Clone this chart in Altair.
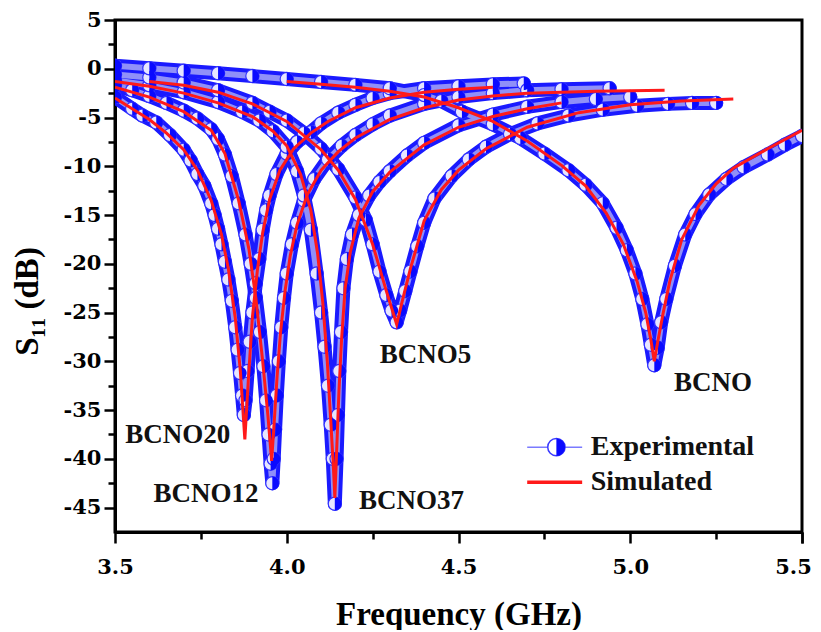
import altair as alt
import pandas as pd

bcno20_f = [3.50, 3.55, 3.58, 3.62, 3.66, 3.70, 3.72, 3.74, 3.76, 3.78, 3.79, 3.80, 3.81, 3.82,
            3.83, 3.84, 3.85, 3.857, 3.864, 3.87, 3.875, 3.88, 3.886, 3.892, 3.90, 3.91, 3.92,
            3.93, 3.94, 3.95, 3.97, 4.00, 4.03, 4.07, 4.10, 4.15, 4.20, 4.25, 4.30, 4.40, 4.50,
            4.60, 4.69]
bcno20_s = [-2.9, -4.1, -4.8, -5.5, -6.8, -8.3, -9.4, -10.8, -12.0, -13.8, -15.0, -16.4, -18.0,
            -19.8, -21.6, -23.8, -26.5, -28.8, -31.2, -33.5, -35.5, -34.0, -31.0, -28.0, -25.0,
            -22.0, -19.5, -16.5, -14.5, -13.0, -10.8, -8.7, -7.5, -6.5, -5.6, -4.5, -3.7, -3.0,
            -2.5, -2.0, -1.8, -1.6, -1.5]

bcno12_f = [3.50, 3.55, 3.60, 3.65, 3.70, 3.74, 3.78, 3.80, 3.82, 3.84, 3.86, 3.88, 3.895, 3.91,
            3.922, 3.932, 3.94, 3.947, 3.953, 3.958, 3.962, 3.966, 3.971, 3.977, 3.984, 3.992,
            4.00, 4.015, 4.03, 4.05, 4.08, 4.12, 4.16, 4.20, 4.25, 4.30, 4.40, 4.50, 4.60, 4.70,
            4.80, 4.94]
bcno12_s = [-1.7, -2.2, -2.8, -3.5, -4.3, -5.1, -6.2, -7.2, -8.8, -11.0, -13.8, -17.0, -20.0,
            -23.5, -27.0, -30.5, -34.0, -37.5, -40.5, -42.5, -40.0, -37.0, -33.5, -30.0, -26.5,
            -23.5, -21.0, -18.0, -15.8, -13.5, -11.3, -9.3, -7.9, -6.8, -5.7, -4.8, -3.6, -2.9,
            -2.5, -2.2, -2.1, -2.0]

bcno37_f = [3.50, 3.60, 3.70, 3.80, 3.87, 3.92, 3.96, 4.00, 4.03, 4.05, 4.07, 4.087, 4.10, 4.11,
            4.12, 4.128, 4.134, 4.14, 4.145, 4.149, 4.153, 4.158, 4.165, 4.175, 4.19, 4.21, 4.24,
            4.27, 4.30, 4.35, 4.40, 4.50, 4.60, 4.70, 4.80, 4.90, 5.00]
bcno37_s = [-1.2, -1.7, -2.4, -3.4, -4.4, -5.3, -6.4, -8.0, -10.5, -13.0, -16.5, -21.0, -25.0,
            -28.5, -32.5, -36.5, -40.0, -44.6, -40.0, -35.5, -31.0, -27.0, -22.5, -19.5, -17.0,
            -15.0, -13.0, -11.6, -10.5, -8.9, -7.6, -5.8, -4.7, -3.9, -3.4, -3.1, -2.9]

bcno5_f = [3.50, 3.60, 3.70, 3.80, 3.90, 3.95, 4.00, 4.05, 4.10, 4.15, 4.20, 4.23, 4.25, 4.27,
           4.29, 4.305, 4.32, 4.33, 4.345, 4.36, 4.38, 4.40, 4.43, 4.48, 4.53, 4.58, 4.65, 4.73,
           4.82, 4.92, 5.02, 5.11, 5.18, 5.25]
bcno5_s = [-0.6, -0.9, -1.4, -2.2, -3.5, -4.4, -5.3, -6.6, -8.2, -10.3, -13.2, -15.5, -18.0,
           -20.8, -23.2, -24.8, -26.0, -24.8, -22.8, -20.8, -18.2, -15.8, -13.3, -11.0, -9.3,
           -8.0, -6.7, -5.6, -4.8, -4.2, -3.8, -3.6, -3.5, -3.5]

bcno_f = [3.50, 3.60, 3.70, 3.80, 3.90, 4.00, 4.10, 4.20, 4.30, 4.40, 4.45, 4.51, 4.60, 4.68,
          4.75, 4.82, 4.87, 4.92, 4.96, 4.99, 5.015, 5.035, 5.05, 5.06, 5.07, 5.08, 5.09, 5.105,
          5.13, 5.16, 5.19, 5.23, 5.28, 5.33, 5.40, 5.45, 5.50]
bcno_s = [0.3, 0.05, -0.2, -0.45, -0.75, -1.05, -1.35, -1.65, -2.0, -2.7, -3.3, -4.4, -5.7, -7.1,
          -8.7, -10.4, -11.9, -13.8, -16.3, -18.6, -21.0, -23.6, -26.2, -28.3, -30.4, -28.6,
          -26.0, -23.6, -20.2, -17.0, -14.9, -12.9, -11.3, -10.1, -8.8, -7.8, -6.9]

# ---------------- simulated data ----------------
sim20_f = [3.50, 3.55, 3.60, 3.65, 3.70, 3.74, 3.78, 3.81, 3.83, 3.85, 3.865, 3.878, 3.888, 3.90,
           3.915, 3.93, 3.95, 3.98, 4.02, 4.07, 4.12, 4.20, 4.30, 4.40, 4.50, 4.60]
sim20_s = [-3.0, -4.1, -5.2, -6.6, -8.3, -10.4, -13.5, -17.0, -20.5, -25.5, -31.0, -38.0, -32.0,
           -25.5, -20.5, -16.8, -13.4, -10.4, -8.2, -6.6, -5.4, -4.0, -3.0, -2.4, -2.1, -1.9]

sim12_f = [3.50, 3.60, 3.70, 3.78, 3.82, 3.86, 3.89, 3.91, 3.93, 3.945, 3.956, 3.963, 3.972,
           3.982, 3.995, 4.01, 4.03, 4.06, 4.10, 4.15, 4.20, 4.30, 4.40, 4.50, 4.60, 4.70, 4.80,
           4.90, 5.00, 5.10]
sim12_s = [-1.9, -2.9, -4.4, -6.3, -8.7, -13.5, -18.5, -23.5, -30.0, -35.5, -40.2, -36.5, -31.5,
           -27.0, -22.8, -19.2, -16.0, -12.9, -10.4, -8.5, -7.1, -5.2, -4.0, -3.2, -2.8, -2.5,
           -2.4, -2.3, -2.25, -2.2]

sim37_f = [3.50, 3.60, 3.70, 3.80, 3.90, 3.96, 4.00, 4.04, 4.07, 4.09, 4.105, 4.118, 4.128,
           4.136, 4.14, 4.146, 4.152, 4.16, 4.17, 4.185, 4.21, 4.25, 4.30, 4.40, 4.50, 4.60,
           4.70, 4.80]
sim37_s = [-1.3, -1.8, -2.5, -3.5, -4.9, -6.4, -7.9, -10.8, -14.5, -19.0, -24.0, -30.0, -36.0,
           -41.0, -44.0, -38.5, -33.0, -27.5, -22.5, -18.8, -15.3, -12.6, -10.6, -7.8, -6.0,
           -4.9, -4.1, -3.5]

sim5_f = [3.60, 3.70, 3.80, 3.90, 4.00, 4.10, 4.15, 4.20, 4.25, 4.29, 4.32, 4.335, 4.36, 4.40,
          4.45, 4.50, 4.58, 4.70, 4.85, 5.00, 5.15, 5.30]
sim5_s = [-1.3, -1.7, -2.4, -3.6, -5.4, -8.3, -10.4, -13.4, -18.0, -22.8, -26.2, -24.0, -20.5,
          -15.6, -12.4, -10.4, -8.2, -6.0, -4.5, -3.7, -3.3, -3.1]

simb_f = [4.00, 4.10, 4.20, 4.30, 4.40, 4.50, 4.60, 4.70, 4.80, 4.87, 4.93, 4.98, 5.02, 5.045,
          5.06, 5.07, 5.08, 5.095, 5.115, 5.15, 5.20, 5.25, 5.30, 5.40, 5.50]
simb_s = [-1.3, -1.6, -1.9, -2.3, -2.9, -4.0, -5.4, -7.4, -9.9, -12.0, -14.8, -18.0, -21.8,
          -25.0, -27.8, -30.0, -28.0, -25.2, -21.8, -17.5, -14.0, -11.8, -10.2, -8.2, -6.3]

# ---------------- annotations / legend text ----------------
label_text = ["BCNO20", "BCNO12", "BCNO37", "BCNO5", "BCNO"]
label_f = [3.683, 3.765, 4.363, 4.404, 5.241]
label_s = [-37.6, -43.6, -44.3, -29.4, -32.2]

legend_text = ["Experimental", "Simulated"]
legend_f = [4.885, 4.885]
legend_s = [-38.8, -42.4]

x_major = [3.5, 4.0, 4.5, 5.0, 5.5]
x_last = [5.5]
x_minor = [3.75, 4.25, 4.75, 5.25]
y_major = [-45, -40, -35, -30, -25, -20, -15, -10, -5, 0, 5]
y_minor = [-42.5, -37.5, -32.5, -27.5, -22.5, -17.5, -12.5, -7.5, -2.5, 2.5]


def frame(fs, ss, name):
    return pd.DataFrame({"f": fs, "s": ss, "sample": name})


exp_df = pd.concat([
    frame(bcno20_f, bcno20_s, "BCNO20"),
    frame(bcno12_f, bcno12_s, "BCNO12"),
    frame(bcno37_f, bcno37_s, "BCNO37"),
    frame(bcno5_f, bcno5_s, "BCNO5"),
    frame(bcno_f, bcno_s, "BCNO"),
], ignore_index=True)

sim_df = pd.concat([
    frame(sim20_f, sim20_s, "BCNO20"),
    frame(sim12_f, sim12_s, "BCNO12"),
    frame(sim37_f, sim37_s, "BCNO37"),
    frame(sim5_f, sim5_s, "BCNO5"),
    frame(simb_f, simb_s, "BCNO"),
], ignore_index=True)

labels_df = pd.DataFrame({"f": label_f, "s": label_s, "t": label_text})
legtext_df = pd.DataFrame({"f": legend_f, "s": legend_s, "t": legend_text})
leg_exp_line = pd.DataFrame({"f": [4.70, 4.86], "s": [-38.8, -38.8]})
leg_exp_pt = pd.DataFrame({"f": [4.785], "s": [-38.8]})
leg_sim_line = pd.DataFrame({"f": [4.70, 4.86], "s": [-42.4, -42.4]})

xscale = alt.Scale(domain=[3.5, 5.5], nice=False, zero=False)
yscale = alt.Scale(domain=[-47.5, 5], nice=False, zero=False)

X = alt.X("f:Q", scale=xscale, axis=None)
Y = alt.Y("s:Q", scale=yscale, axis=None)

HALF = "M0,-1A1,1,0,0,1,0,1Z"
BLUE = "#0a0aff"

band_outer = alt.Chart(exp_df).mark_line(
    color="#1a1aff", strokeWidth=14, strokeCap="round", strokeJoin="round", clip=True
).encode(x=X, y=Y, detail="sample:N")
band_inner = alt.Chart(exp_df).mark_line(
    color="#9090f8", strokeWidth=6, strokeCap="round", strokeJoin="round", clip=True
).encode(x=X, y=Y, detail="sample:N")
pts_circle = alt.Chart(exp_df).mark_point(
    shape="circle", filled=True, fill="#e6e6ff", stroke="#3030ff", strokeWidth=1.2,
    size=175, opacity=1, clip=True
).encode(x=X, y=Y)
pts_half = alt.Chart(exp_df).mark_point(
    shape=HALF, filled=True, color=BLUE, size=175, opacity=1, clip=True
).encode(x=X, y=Y)
sim_lines = alt.Chart(sim_df).mark_line(
    color="#ff1a1a", strokeWidth=3, clip=True
).encode(x=X, y=Y, detail="sample:N")

label_font = "Liberation Serif"
labels = alt.Chart(labels_df).mark_text(
    font=label_font, fontWeight="bold", fontSize=27, color="#111111",
    align="center", baseline="middle"
).encode(x=X, y=Y, text="t:N")

leg_line1 = alt.Chart(leg_exp_line).mark_line(color="#7a7aff", strokeWidth=1.5).encode(x=X, y=Y)
leg_pt1 = alt.Chart(leg_exp_pt).mark_point(
    shape="circle", filled=True, fill="white", stroke="#3a3aff", strokeWidth=1.5, size=300, opacity=1
).encode(x=X, y=Y)
leg_pt2 = alt.Chart(leg_exp_pt).mark_point(
    shape=HALF, filled=True, color=BLUE, size=300, opacity=1
).encode(x=X, y=Y)
leg_line2 = alt.Chart(leg_sim_line).mark_line(color="#ff1a1a", strokeWidth=3.5).encode(x=X, y=Y)
leg_text = alt.Chart(legtext_df).mark_text(
    font=label_font, fontWeight="bold", fontSize=28, color="#111111",
    align="left", baseline="middle"
).encode(x=X, y=Y, text="t:N")

tick_font = "DejaVu Serif"

main_axes = alt.Chart(leg_exp_pt).mark_point(opacity=0).encode(
    x=alt.X("f:Q", scale=xscale, axis=alt.Axis(
        orient="bottom", values=x_major,
        labelExpr="datum.value >= 5.49 ? '' : format(datum.value, '.1f')", grid=False,
        tickSize=11, tickWidth=2.5, tickColor="black",
        domainWidth=3, domainColor="black",
        labelFont=tick_font, labelFontWeight="bold", labelFontSize=21, labelColor="black",
        labelPadding=13, labelFlush=False,
        title="Frequency (GHz)", titleFont=label_font, titleFontWeight="bold",
        titleFontSize=33, titleColor="black", titleY=92, titleBaseline="alphabetic")),
    y=alt.Y("s:Q", scale=yscale, axis=alt.Axis(
        orient="left", values=y_major, labelExpr="toString(datum.value)", grid=False,
        tickSize=11, tickWidth=2.5, tickColor="black",
        domainWidth=3, domainColor="black",
        labelFont=tick_font, labelFontWeight="bold", labelFontSize=21, labelColor="black",
        labelPadding=3, labelFlush=False,
        title="S₁₁ (dB)", titleFont=label_font, titleFontWeight="bold",
        titleFontSize=33, titleColor="black", titleX=-88, titleY=281,
        titleAlign="center", titleBaseline="middle", titleAngle=270)),
)

last_axis = alt.Chart(leg_exp_pt).mark_point(opacity=0).encode(
    x=alt.X("f:Q", scale=xscale, axis=alt.Axis(
        orient="bottom", values=x_last, format=".1f", grid=False, domain=False,
        tickSize=11, tickWidth=2.5, tickColor="black",
        labelFont=tick_font, labelFontWeight="bold", labelFontSize=21, labelColor="black",
        labelPadding=13, labelFlush=False, labelOffset=-9, title="")),
)

minor_axes = alt.Chart(leg_exp_pt).mark_point(opacity=0).encode(
    x=alt.X("f:Q", scale=xscale, axis=alt.Axis(
        orient="bottom", values=x_minor, labels=False, domain=False, grid=False,
        tickSize=7, tickWidth=2.5, tickColor="black", title="")),
    y=alt.Y("s:Q", scale=yscale, axis=alt.Axis(
        orient="left", values=y_minor, labels=False, domain=False, grid=False,
        tickSize=7, tickWidth=2.5, tickColor="black", title="")),
)

chart = alt.layer(
    main_axes, minor_axes, last_axis,
    band_outer, band_inner, pts_circle, pts_half, sim_lines,
    labels, leg_line1, leg_pt1, leg_pt2, leg_line2, leg_text,
).resolve_axis(x="independent", y="independent").properties(
    width=687, height=512,
    autosize=alt.AutoSizeParams(type="none"),
    padding={"left": 107, "top": 12, "right": 11, "bottom": 98},
    background="white",
).configure_view(stroke="black", strokeWidth=3)

chart.save("out.html", embed_options={"renderer": "svg", "actions": False})
